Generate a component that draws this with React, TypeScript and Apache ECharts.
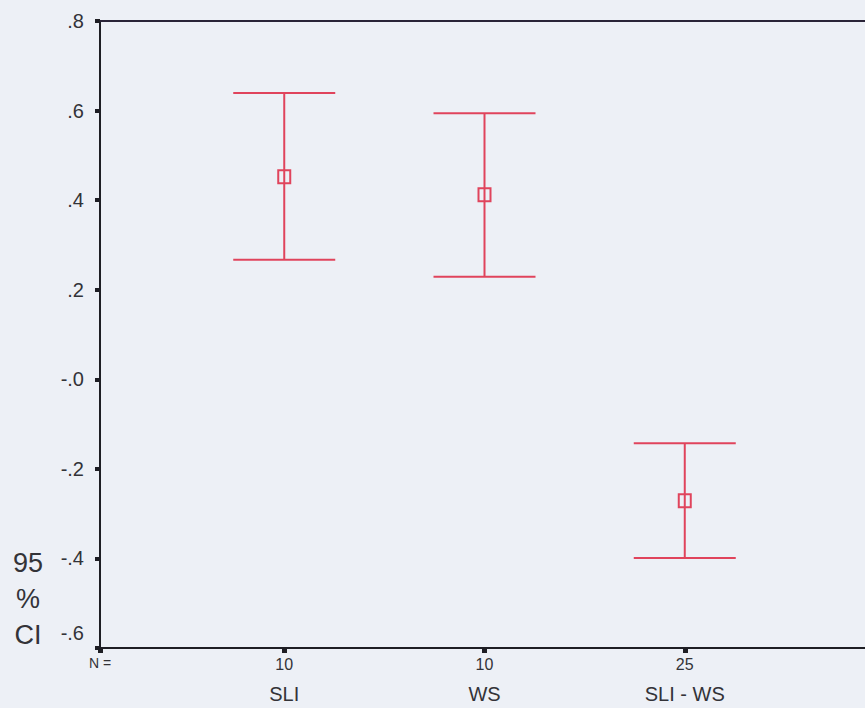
import React, { useEffect, useRef } from "react";
import * as echarts from "echarts";

const categories = ["SLI", "WS", "SLI - WS"];
const nCounts = ["10", "10", "25"];
const means = [0.452, 0.412, -0.271];
const lower = [0.267, 0.229, -0.399];
const upper = [0.639, 0.594, -0.143];
const yTickLabels = ["-.6", "-.4", "-.2", "-.0", ".2", ".4", ".6", ".8"];
const yAxisTitle = "95\n%\nCI";
const nLabel = "N =";

const X_MIN = 0.08;
const X_MAX = 3.9;
const RED = "#e0445c";
const INK = "#333338";
const AXIS = "#1e1e24";
const FONT = "'Liberation Sans', Arial, sans-serif";

export default function App() {
  const ref = useRef<HTMLDivElement>(null);

  useEffect(() => {
    if (!ref.current) return;
    const chart = echarts.init(ref.current, null, { renderer: "svg" });
    const catPos = categories.map((_, i) => i + 1);
    const data = categories.map((_, i) => [catPos[i], means[i], lower[i], upper[i]]);

    chart.setOption({
      animation: false,
      backgroundColor: "#edf0f6",
      textStyle: { fontFamily: FONT },
      grid: { left: 100, top: 21, width: 770, bottom: 60, containLabel: false },
      graphic: [
        {
          type: "text",
          x: 28,
          y: 545,
          style: {
            text: yAxisTitle,
            fontSize: 27,
            lineHeight: 36,
            fontFamily: FONT,
            fill: INK,
            textAlign: "center",
            textVerticalAlign: "top",
          },
        },
      ],
      xAxis: [
        {
          type: "value",
          min: X_MIN,
          max: X_MAX,
          position: "bottom",
          axisLine: { show: true, onZero: false, lineStyle: { color: AXIS, width: 2 } },
          axisTick: {
            show: true,
            customValues: [X_MIN, ...catPos],
            length: 5,
            inside: false,
            lineStyle: { color: AXIS, width: 5 },
          },
          axisLabel: {
            show: true,
            customValues: [X_MIN, ...catPos],
            margin: 8,
            color: INK,
            fontSize: 16,
            fontFamily: FONT,
            formatter: (v: number) => {
              if (Math.abs(v - X_MIN) < 1e-6) return "{n|" + nLabel + "}";
              const idx = catPos.indexOf(Math.round(v));
              return idx >= 0 ? nCounts[idx] : "";
            },
            rich: { n: { fontSize: 14, color: INK, fontFamily: FONT } },
          },
          splitLine: { show: false },
        },
        {
          type: "value",
          min: X_MIN,
          max: X_MAX,
          position: "bottom",
          offset: 30,
          axisLine: { show: false, onZero: false },
          axisTick: { show: false },
          axisLabel: {
            show: true,
            customValues: catPos,
            margin: 6,
            color: INK,
            fontSize: 20,
            fontFamily: FONT,
            formatter: (v: number) => {
              const idx = catPos.indexOf(Math.round(v));
              return idx >= 0 ? categories[idx] : "";
            },
          },
          splitLine: { show: false },
        },
        {
          type: "value",
          min: X_MIN,
          max: X_MAX,
          position: "top",
          axisLine: { show: true, onZero: false, lineStyle: { color: "#2a2438", width: 2 } },
          axisTick: { show: false },
          axisLabel: { show: false },
          splitLine: { show: false },
        },
      ],
      yAxis: {
        type: "value",
        min: -0.6,
        max: 0.8,
        interval: 0.2,
        axisLine: { show: true, onZero: false, lineStyle: { color: AXIS, width: 2 } },
        axisTick: { show: true, length: 5, inside: false, lineStyle: { color: AXIS, width: 4 } },
        axisLabel: {
          show: true,
          margin: 16,
          color: INK,
          fontSize: 20,
          fontFamily: FONT,
          formatter: (_v: number, idx: number) => {
            const t = yTickLabels[idx] ?? "";
            return idx === 0 ? "{low|" + t + "}\n{sp| }" : t;
          },
          rich: {
            low: { fontSize: 20, lineHeight: 20, color: INK, fontFamily: FONT },
            sp: { fontSize: 10, lineHeight: 30 },
          },
        },
        splitLine: { show: false },
      },
      series: [
        {
          type: "custom",
          xAxisIndex: 0,
          yAxisIndex: 0,
          data,
          renderItem: (params: any, api: any) => {
            const x = api.value(0);
            const m = api.value(1);
            const lo = api.value(2);
            const hi = api.value(3);
            const pTop = api.coord([x, hi]);
            const pBot = api.coord([x, lo]);
            const pMid = api.coord([x, m]);
            const hw = 51;
            const ls = { stroke: RED, lineWidth: 2, fill: "none" };
            return {
              type: "group",
              children: [
                { type: "line", shape: { x1: pTop[0], y1: pTop[1], x2: pBot[0], y2: pBot[1] }, style: ls },
                { type: "line", shape: { x1: pTop[0] - hw, y1: pTop[1], x2: pTop[0] + hw, y2: pTop[1] }, style: ls },
                { type: "line", shape: { x1: pBot[0] - hw, y1: pBot[1], x2: pBot[0] + hw, y2: pBot[1] }, style: ls },
                {
                  type: "rect",
                  shape: { x: pMid[0] - 6, y: pMid[1] - 6.5, width: 12, height: 13 },
                  style: { stroke: RED, lineWidth: 2, fill: "transparent" },
                },
              ],
            };
          },
        },
      ],
    });

    return () => chart.dispose();
  }, []);

  return (
    <div
      ref={ref}
      style={{ position: "fixed", left: 0, top: 0, width: 865, height: 708 }}
    />
  );
}
